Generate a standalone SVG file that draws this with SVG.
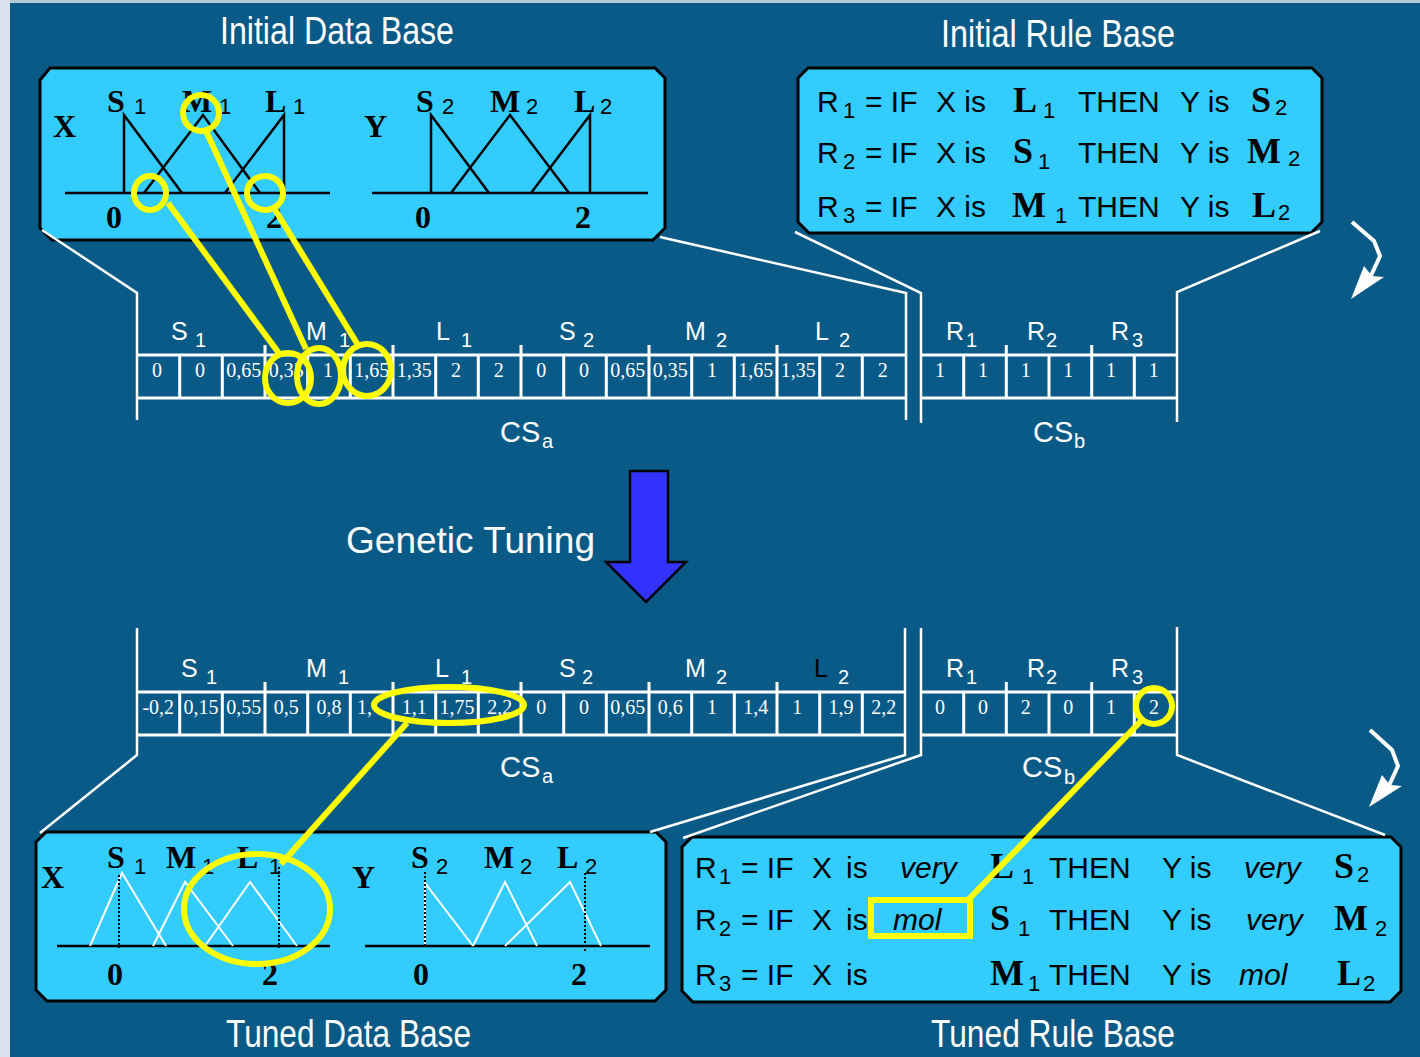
<svg xmlns="http://www.w3.org/2000/svg" width="1420" height="1057" viewBox="0 0 1420 1057">
<defs>
<style>
.box{fill:#33ccff;stroke:#000;stroke-width:3}
.wl{stroke:#fff;stroke-width:2.5;fill:none}
.cl{stroke:#fff;stroke-width:3;fill:none}
.yl{stroke:#ffff00;stroke-width:6;fill:none}
.bk{stroke:#000;stroke-width:2.5;fill:none}
.wt{stroke:#fff;stroke-width:2;fill:none}
.dot{stroke:#000;stroke-width:2;stroke-dasharray:2 2;fill:none}
.title{font-family:"Liberation Sans",Arial,sans-serif;font-size:38px;fill:#fff}
.sans{font-family:"Liberation Sans",Arial,sans-serif}
.rule{font-family:"Liberation Sans",Arial,sans-serif;font-size:30px;fill:#000}
.rsub{font-family:"Liberation Sans",Arial,sans-serif;font-size:22px;fill:#000}
.bs{font-family:"Liberation Serif","Times New Roman",serif;font-weight:bold;font-size:36px;fill:#000}
.ds{font-family:"Liberation Serif","Times New Roman",serif;font-weight:bold;font-size:32px;fill:#000}
.dsub{font-family:"Liberation Sans",Arial,sans-serif;font-size:22px;fill:#000}
.cell{font-family:"Liberation Serif","Times New Roman",serif;font-size:20px;fill:#fff;text-anchor:middle}
.glab{font-family:"Liberation Sans",Arial,sans-serif;font-size:25px;fill:#fff}
.gsub{font-family:"Liberation Sans",Arial,sans-serif;font-size:20px;fill:#fff}
.cs{font-family:"Liberation Sans",Arial,sans-serif;font-size:29px;fill:#fff}
.css{font-family:"Liberation Sans",Arial,sans-serif;font-size:20px;fill:#fff}
.it{font-family:"Liberation Sans",Arial,sans-serif;font-size:30px;font-style:italic;fill:#000}
</style>
</defs>
<rect x="0" y="0" width="1420" height="1057" fill="#0a5a87"/>
<rect x="0" y="0" width="1420" height="3" fill="#b4c6d8"/>
<rect x="0" y="0" width="10" height="1057" fill="#d8e2ec"/>

<!-- Titles -->
<text class="title" x="220" y="44" textLength="234" lengthAdjust="spacingAndGlyphs">Initial Data Base</text>
<text class="title" x="941" y="47" textLength="234" lengthAdjust="spacingAndGlyphs">Initial Rule Base</text>
<text class="title" x="226" y="1047" textLength="245" lengthAdjust="spacingAndGlyphs">Tuned Data Base</text>
<text class="title" x="931" y="1047" textLength="244" lengthAdjust="spacingAndGlyphs">Tuned Rule Base</text>

<!-- Initial Data Base node -->
<g id="initial-data-base">
<path class="box" d="M50,68 H655 L665,78 V228 L653,240 H52 L40,228 V80 Z"/>
<text class="ds" x="53" y="137">X</text>
<line class="bk" x1="65" y1="193" x2="330" y2="193"/>
<polyline class="bk" points="124,193 124,115 182,193"/>
<polyline class="bk" points="144,193 203,115 260,193"/>
<polyline class="bk" points="225,193 284,115 284,193"/>
<text class="ds" x="107" y="112">S</text><text class="dsub" x="134" y="114">1</text>
<text class="ds" x="182" y="112">M</text><text class="dsub" x="219" y="114">1</text>
<text class="ds" x="265" y="112">L</text><text class="dsub" x="293" y="114">1</text>
<text class="ds" x="106" y="228">0</text>
<text class="ds" x="266" y="228">2</text>
<text class="ds" x="364" y="137">Y</text>
<line class="bk" x1="372" y1="193" x2="648" y2="193"/>
<polyline class="bk" points="431,193 431,115 489,193"/>
<polyline class="bk" points="451,193 510,115 569,193"/>
<polyline class="bk" points="531,193 590,115 590,193"/>
<text class="ds" x="416" y="112">S</text><text class="dsub" x="442" y="114">2</text>
<text class="ds" x="490" y="112">M</text><text class="dsub" x="526" y="114">2</text>
<text class="ds" x="574" y="112">L</text><text class="dsub" x="600" y="114">2</text>
<text class="ds" x="415" y="228">0</text>
<text class="ds" x="575" y="228">2</text>
</g>

<!-- Initial Rule Base node -->
<g id="initial-rule-base">
<path class="box" d="M808,68 H1312 L1322,78 V222 L1311,233 H809 L798,222 V78 Z"/>
<text class="rule" x="817" y="112">R</text><text class="rsub" x="843" y="118">1</text>
<text class="rule" x="865" y="112">= IF</text><text class="rule" x="936" y="112">X is</text>
<text class="bs" x="1013" y="112">L</text><text class="rsub" x="1043" y="118">1</text>
<text class="rule" x="1078" y="112">THEN</text><text class="rule" x="1180" y="112">Y is</text>
<text class="bs" x="1251" y="112">S</text><text class="rsub" x="1275" y="115">2</text>

<text class="rule" x="817" y="163">R</text><text class="rsub" x="843" y="169">2</text>
<text class="rule" x="865" y="163">= IF</text><text class="rule" x="936" y="163">X is</text>
<text class="bs" x="1013" y="163">S</text><text class="rsub" x="1038" y="169">1</text>
<text class="rule" x="1078" y="163">THEN</text><text class="rule" x="1180" y="163">Y is</text>
<text class="bs" x="1247" y="163">M</text><text class="rsub" x="1288" y="166">2</text>

<text class="rule" x="817" y="217">R</text><text class="rsub" x="843" y="223">3</text>
<text class="rule" x="865" y="217">= IF</text><text class="rule" x="936" y="217">X is</text>
<text class="bs" x="1012" y="217">M</text><text class="rsub" x="1055" y="223">1</text>
<text class="rule" x="1078" y="217">THEN</text><text class="rule" x="1180" y="217">Y is</text>
<text class="bs" x="1252" y="217">L</text><text class="rsub" x="1278" y="220">2</text>
</g>

<!-- Upper chromosome CSa -->
<g id="cs-a-initial">
<line class="cl" x1="137" y1="355" x2="906" y2="355"/>
<line class="cl" x1="137" y1="398" x2="906" y2="398"/>
<path class="cl" d="M179.7,355V398M222.3,355V398M265,345V398M307.7,355V398M350.3,355V398M393,345V398M435.7,355V398M478.3,355V398M521,345V398M563.7,355V398M606.3,355V398M649,345V398M691.7,355V398M734.3,355V398M777,345V398M819.7,355V398M862.3,355V398"/>
<text class="glab" x="171" y="340">S</text><text class="gsub" x="195" y="347">1</text>
<text class="glab" x="306" y="340">M</text><text class="gsub" x="339" y="347">1</text>
<text class="glab" x="436" y="340">L</text><text class="gsub" x="461" y="347">1</text>
<text class="glab" x="559" y="340">S</text><text class="gsub" x="583" y="347">2</text>
<text class="glab" x="685" y="340">M</text><text class="gsub" x="716" y="347">2</text>
<text class="glab" x="815" y="340">L</text><text class="gsub" x="839" y="347">2</text>
<text class="cell" x="157" y="377">0</text>
<text class="cell" x="200" y="377">0</text>
<text class="cell" x="243.7" y="377">0,65</text>
<text class="cell" x="286.3" y="377">0,35</text>
<text class="cell" x="328" y="377">1</text>
<text class="cell" x="371.7" y="377">1,65</text>
<text class="cell" x="414.3" y="377">1,35</text>
<text class="cell" x="456" y="377">2</text>
<text class="cell" x="498.7" y="377">2</text>
<text class="cell" x="541.3" y="377">0</text>
<text class="cell" x="584" y="377">0</text>
<text class="cell" x="627.7" y="377">0,65</text>
<text class="cell" x="670.3" y="377">0,35</text>
<text class="cell" x="712" y="377">1</text>
<text class="cell" x="755.7" y="377">1,65</text>
<text class="cell" x="798.3" y="377">1,35</text>
<text class="cell" x="840" y="377">2</text>
<text class="cell" x="882.7" y="377">2</text>
<text class="cs" x="500" y="442">CS</text><text class="css" x="542" y="448">a</text>
</g>

<!-- Upper chromosome CSb -->
<g id="cs-b-initial">
<line class="cl" x1="921" y1="355" x2="1177" y2="355"/>
<line class="cl" x1="921" y1="398" x2="1177" y2="398"/>
<path class="cl" d="M963.7,355V398M1006.3,345V398M1049,355V398M1091.7,345V398M1134.3,355V398"/>
<text class="glab" x="946" y="340">R</text><text class="gsub" x="966" y="347">1</text>
<text class="glab" x="1027" y="340">R</text><text class="gsub" x="1046" y="347">2</text>
<text class="glab" x="1111" y="340">R</text><text class="gsub" x="1132" y="347">3</text>
<text class="cell" x="940" y="377">1</text>
<text class="cell" x="983" y="377">1</text>
<text class="cell" x="1025.7" y="377">1</text>
<text class="cell" x="1068.3" y="377">1</text>
<text class="cell" x="1111" y="377">1</text>
<text class="cell" x="1153.7" y="377">1</text>
<text class="cs" x="1033" y="442">CS</text><text class="css" x="1074" y="448">b</text>
</g>

<!-- Genetic Tuning arrow -->
<g id="genetic-tuning">
<text class="sans" x="346" y="553" font-size="36" fill="#fff" textLength="249" lengthAdjust="spacingAndGlyphs">Genetic Tuning</text>
<path d="M630,471 H668 V562 H686 L646,602 L606,562 H630 Z" fill="#3333ff" stroke="#000" stroke-width="2.5" stroke-linejoin="miter"/>
</g>

<!-- Lower chromosome CSa -->
<g id="cs-a-tuned">
<line class="cl" x1="137" y1="692" x2="905" y2="692"/>
<line class="cl" x1="137" y1="735" x2="905" y2="735"/>
<path class="cl" d="M179.7,692V735M222.3,692V735M265,682V735M307.7,692V735M350.3,692V735M393,682V735M435.7,692V735M478.3,692V735M521,682V735M563.7,692V735M606.3,692V735M649,682V735M691.7,692V735M734.3,692V735M777,682V735M819.7,692V735M862.3,692V735"/>
<text class="glab" x="181" y="677">S</text><text class="gsub" x="206" y="684">1</text>
<text class="glab" x="306" y="677">M</text><text class="gsub" x="338" y="684">1</text>
<text class="glab" x="435" y="677">L</text><text class="gsub" x="461" y="684">1</text>
<text class="glab" x="559" y="677">S</text><text class="gsub" x="582" y="684">2</text>
<text class="glab" x="685" y="677">M</text><text class="gsub" x="716" y="684">2</text>
<text class="glab" x="814" y="677" style="fill:#000">L</text><text class="gsub" x="838" y="684">2</text>
<text class="cell" x="158.3" y="714">-0,2</text>
<text class="cell" x="201" y="714">0,15</text>
<text class="cell" x="243.7" y="714">0,55</text>
<text class="cell" x="286.3" y="714">0,5</text>
<text class="cell" x="329" y="714">0,8</text>
<text class="cell" x="357" y="714" style="text-anchor:start">1,</text>
<text class="cell" x="414.3" y="714">1,1</text>
<text class="cell" x="457" y="714">1,75</text>
<text class="cell" x="499.7" y="714">2,2</text>
<text class="cell" x="541.3" y="714">0</text>
<text class="cell" x="584" y="714">0</text>
<text class="cell" x="627.7" y="714">0,65</text>
<text class="cell" x="670.3" y="714">0,6</text>
<text class="cell" x="712" y="714">1</text>
<text class="cell" x="755.7" y="714">1,4</text>
<text class="cell" x="797.3" y="714">1</text>
<text class="cell" x="841" y="714">1,9</text>
<text class="cell" x="883.7" y="714">2,2</text>
<text class="cs" x="500" y="777">CS</text><text class="css" x="542" y="783">a</text>
</g>

<!-- Lower chromosome CSb -->
<g id="cs-b-tuned">
<line class="cl" x1="921" y1="692" x2="1177" y2="692"/>
<line class="cl" x1="921" y1="735" x2="1177" y2="735"/>
<path class="cl" d="M963.7,692V735M1006.3,682V735M1049,692V735M1091.7,682V735M1134.3,692V735"/>
<text class="glab" x="946" y="677">R</text><text class="gsub" x="966" y="684">1</text>
<text class="glab" x="1027" y="677">R</text><text class="gsub" x="1046" y="684">2</text>
<text class="glab" x="1111" y="677">R</text><text class="gsub" x="1132" y="684">3</text>
<text class="cell" x="940" y="714">0</text>
<text class="cell" x="983" y="714">0</text>
<text class="cell" x="1025.7" y="714">2</text>
<text class="cell" x="1068.3" y="714">0</text>
<text class="cell" x="1111" y="714">1</text>
<text class="cell" x="1154" y="714">2</text>
<text class="cs" x="1022" y="777">CS</text><text class="css" x="1064" y="784">b</text>
</g>

<!-- Tuned Data Base node -->
<g id="tuned-data-base">
<path class="box" d="M46,832 H656 L666,842 V990 L655,1001 H47 L36,990 V842 Z"/>
<text class="ds" x="41" y="888">X</text>
<line class="bk" x1="57" y1="946" x2="330" y2="946"/>
<polyline class="wt" points="90,946 122,873 166,946"/>
<polyline class="wt" points="153,946 185,882 233,946"/>
<polyline class="wt" points="205,946 250,882 297,946"/>
<line class="dot" x1="119" y1="875" x2="119" y2="948"/>
<line class="dot" x1="279" y1="867" x2="279" y2="948"/>
<text class="ds" x="107" y="868">S</text><text class="dsub" x="134" y="874">1</text>
<text class="ds" x="166" y="868">M</text><text class="dsub" x="202" y="874">1</text>
<text class="ds" x="237" y="868">L</text><text class="dsub" x="269" y="874">1</text>
<text class="ds" x="107" y="985">0</text>
<text class="ds" x="262" y="985">2</text>
<text class="ds" x="352" y="888">Y</text>
<line class="bk" x1="365" y1="946" x2="650" y2="946"/>
<polyline class="wt" points="425,946 425,883 473,946"/>
<polyline class="wt" points="473,946 505,882 537,946"/>
<polyline class="wt" points="505,946 570,882 601,946"/>
<line class="dot" x1="425" y1="872" x2="425" y2="946"/>
<line class="dot" x1="585" y1="873" x2="585" y2="951"/>
<text class="ds" x="411" y="868">S</text><text class="dsub" x="436" y="874">2</text>
<text class="ds" x="484" y="868">M</text><text class="dsub" x="520" y="874">2</text>
<text class="ds" x="557" y="868">L</text><text class="dsub" x="585" y="874">2</text>
<text class="ds" x="413" y="985">0</text>
<text class="ds" x="571" y="985">2</text>
</g>

<!-- Tuned Rule Base node -->
<g id="tuned-rule-base">
<path class="box" d="M692,837 H1391 L1401,847 V991 L1390,1002 H693 L682,991 V847 Z"/>
<text class="rule" x="695" y="878">R</text><text class="rsub" x="719" y="884">1</text>
<text class="rule" x="741" y="878">= IF</text><text class="rule" x="812" y="878">X</text><text class="rule" x="846" y="878">is</text>
<text class="it" x="900" y="878">very</text>
<text class="bs" x="990" y="878">L</text><text class="rsub" x="1022" y="884">1</text>
<text class="rule" x="1049" y="878">THEN</text><text class="rule" x="1162" y="878">Y is</text>
<text class="it" x="1244" y="878">very</text>
<text class="bs" x="1334" y="878">S</text><text class="rsub" x="1357" y="882">2</text>

<text class="rule" x="695" y="930">R</text><text class="rsub" x="719" y="936">2</text>
<text class="rule" x="741" y="930">= IF</text><text class="rule" x="812" y="930">X</text><text class="rule" x="846" y="930">is</text>
<text class="it" x="893" y="930">mol</text>
<text class="bs" x="990" y="930">S</text><text class="rsub" x="1018" y="936">1</text>
<text class="rule" x="1049" y="930">THEN</text><text class="rule" x="1162" y="930">Y is</text>
<text class="it" x="1246" y="930">very</text>
<text class="bs" x="1334" y="930">M</text><text class="rsub" x="1375" y="936">2</text>

<text class="rule" x="695" y="985">R</text><text class="rsub" x="719" y="991">3</text>
<text class="rule" x="741" y="985">= IF</text><text class="rule" x="812" y="985">X</text><text class="rule" x="846" y="985">is</text>
<text class="bs" x="990" y="985">M</text><text class="rsub" x="1028" y="991">1</text>
<text class="rule" x="1049" y="985">THEN</text><text class="rule" x="1162" y="985">Y is</text>
<text class="it" x="1239" y="985">mol</text>
<text class="bs" x="1337" y="985">L</text><text class="rsub" x="1363" y="991">2</text>
</g>

<!-- Connectors -->
<g id="connectors">
<polyline class="wl" points="42,230 137,293 137,420"/>
<polyline class="wl" points="660,237 906,293 906,420"/>
<polyline class="wl" points="795,232 921,293 921,423"/>
<polyline class="wl" points="1320,231 1177,292 1177,422"/>
<polyline class="wl" points="137,628 137,755 40,833"/>
<polyline class="wl" points="905,628 905,755 650,832"/>
<polyline class="wl" points="921,628 921,755 683,838"/>
<polyline class="wl" points="1177,627 1177,755 1385,835"/>
<polyline points="1352,222 1374,241 1380,256 1369,280" fill="none" stroke="#fff" stroke-width="4"/>
<polygon points="1351,299 1364,266 1372,276 1384,277" fill="#fff"/>
<polyline points="1370,730 1392,750 1398,766 1387,790" fill="none" stroke="#fff" stroke-width="4"/>
<polygon points="1369,807 1382,775 1390,785 1402,786" fill="#fff"/>
<ellipse class="yl" cx="150" cy="193" rx="16" ry="17"/>
<ellipse class="yl" cx="201" cy="113" rx="18" ry="18"/>
<ellipse class="yl" cx="265" cy="193" rx="18" ry="17"/>
<ellipse class="yl" cx="288" cy="378" rx="23" ry="25"/>
<ellipse class="yl" cx="319" cy="376" rx="22" ry="28"/>
<ellipse class="yl" cx="367" cy="370" rx="24" ry="26"/>
<line class="yl" x1="168" y1="203" x2="281" y2="356"/>
<line class="yl" x1="206" y1="131" x2="306" y2="349"/>
<line class="yl" x1="274" y1="208" x2="358" y2="345"/>
<ellipse class="yl" cx="449" cy="705" rx="75" ry="18"/>
<line class="yl" x1="407" y1="723" x2="281" y2="864"/>
<ellipse class="yl" cx="257" cy="909" rx="73" ry="55"/>
<circle class="yl" cx="1154" cy="706" r="18"/>
<line class="yl" x1="1141" y1="721" x2="968" y2="900"/>
<rect class="yl" x="871" y="900" width="99" height="36" stroke-width="5"/>
</g>
</svg>
